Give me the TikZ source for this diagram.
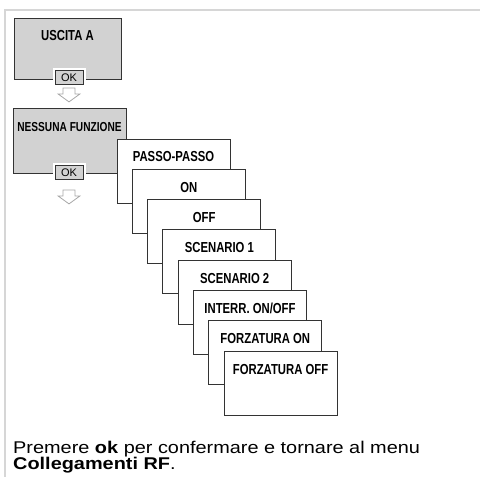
\documentclass[tikz,border=0pt]{standalone}
\usepackage{fontspec}
\usepackage{tikz}
\usetikzlibrary{positioning,calc}
\setmainfont{Liberation Sans}
\newfontfamily\boxfont[FakeStretch=0.78]{Liberation Sans}
\newfontfamily\notefont[FakeStretch=1.17]{Liberation Sans}
\definecolor{Ink}{HTML}{333333}
\definecolor{Shade}{HTML}{D2D2D2}
\definecolor{Frame}{HTML}{D6D6D6}
\definecolor{Hollow}{HTML}{A8A8A8}
\begin{document}
\begin{tikzpicture}[x=1pt,y=-1pt,
    menu/.style={draw=Ink,line width=0.9pt,fill=Shade,inner sep=0pt},
    choice/.style={draw=Ink,line width=0.9pt,fill=white,inner sep=0pt,minimum width=113pt,minimum height=64pt},
    lbl/.style={anchor=base,inner sep=0pt,font=\boxfont\bfseries\fontsize{14.5}{16}\selectfont},
    okbtn/.style={draw=Ink,line width=0.8pt,fill=Shade,minimum width=28pt,minimum height=14pt,inner sep=0pt,font=\fontsize{11}{12}\selectfont,preaction={draw=white,line width=5pt}},
    hollow/.style={draw=Hollow,line width=0.8pt,fill=white,line join=miter}]
    \useasboundingbox (0,0) rectangle (480,477);
    \draw[Frame,line width=1.5pt] (480,10) -- (5,10) -- (5,477);
    \node[menu,minimum width=107pt,minimum height=61pt] (out) at (67.5,48.5) {};
    \node[lbl] (outT) at ([yshift=-23pt]out.north) {USCITA A};
    \node[okbtn] (ok1) at (69,77.5) {OK};
    \draw[hollow] ([shift={(-6,3)}]ok1.south) -- ++(12,0) -- ++(0,6) -- ++(5,0) -- ++(-11,8) -- ++(-11,-8) -- ++(5,0) -- cycle;
    \node[menu,minimum width=113pt,minimum height=65pt] (none) at (69.5,140.5) {};
    \node[lbl,font=\boxfont\bfseries\fontsize{13}{15}\selectfont] (noneT) at ([yshift=-24pt]none.north) {NESSUNA FUNZIONE};
    \node[okbtn] (ok2) at (69,172.5) {OK};
    \draw[hollow] ([shift={(-6,10)}]ok2.south) -- ++(12,0) -- ++(0,6) -- ++(5,0) -- ++(-11,8) -- ++(-11,-8) -- ++(5,0) -- cycle;
    \node[choice] (pp) at (173.5,171) {};   \node[lbl] (ppT) at ([yshift=-23.4pt]pp.north) {PASSO-PASSO};
    \node[choice] (on) at (188.8,201.3) {}; \node[lbl] (onT) at ([yshift=-23.4pt]on.north) {ON};
    \node[choice] (off) at (204.1,231.6) {}; \node[lbl] (offT) at ([yshift=-23.4pt]off.north) {OFF};
    \node[choice] (sc1) at (219.4,261.9) {}; \node[lbl] (sc1T) at ([yshift=-23.4pt]sc1.north) {SCENARIO 1};
    \node[choice] (sc2) at (234.7,292.2) {}; \node[lbl] (sc2T) at ([yshift=-23.4pt]sc2.north) {SCENARIO 2};
    \node[choice] (sw) at (250,322.5) {};   \node[lbl] (swT) at ([yshift=-23.4pt]sw.north) {INTERR. ON/OFF};
    \node[choice] (fon) at (265.3,352.8) {}; \node[lbl] (fonT) at ([yshift=-23.4pt]fon.north) {FORZATURA ON};
    \node[choice] (foff) at (280.6,383.1) {}; \node[lbl] (foffT) at ([yshift=-23.4pt]foff.north) {FORZATURA OFF};
    \node[anchor=north west,inner sep=0pt,align=left,font={\notefont\fontsize{17}{16.5}\selectfont\lineskiplimit=-20pt}] (note) at (13,440.5) {Premere \textbf{ok} per confermare e tornare al menu\\\textbf{Collegamenti RF}.};
\end{tikzpicture}
\end{document}
